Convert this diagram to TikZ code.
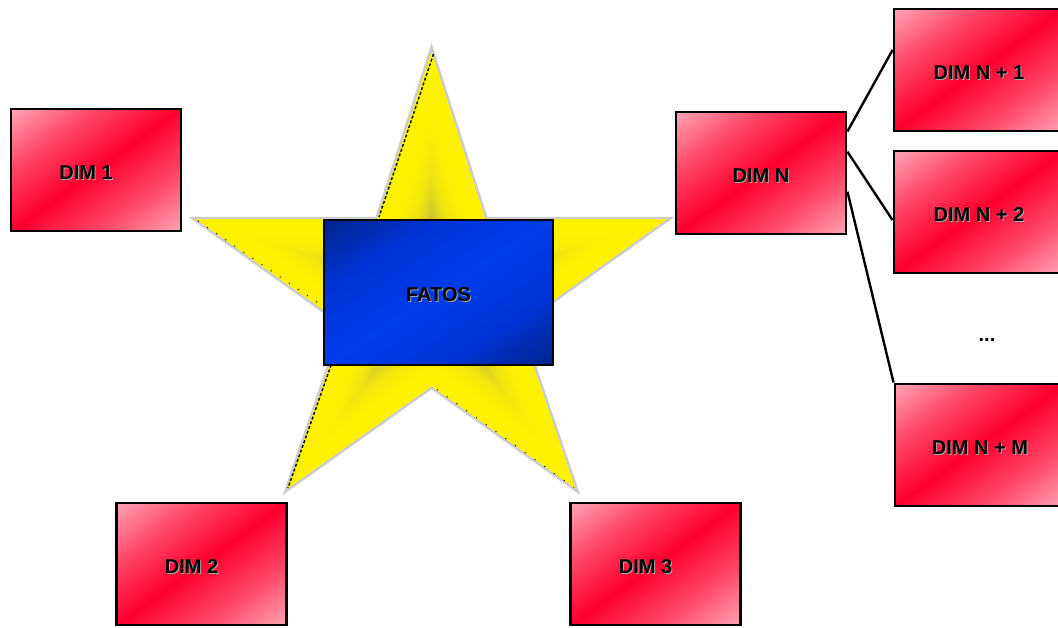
\documentclass[tikz,border=0pt]{standalone}
\usepackage{fontspec}
\setmainfont{Liberation Sans}
\usetikzlibrary{calc}
\definecolor{dimpink}{RGB}{255,168,184}
\definecolor{dimmid}{RGB}{255,72,104}
\definecolor{dimred}{RGB}{255,0,46}
\definecolor{fdark}{RGB}{0,34,136}
\definecolor{fmid}{RGB}{0,52,214}
\definecolor{fbright}{RGB}{0,60,234}
\definecolor{stargray}{RGB}{204,204,204}
\definecolor{txtshadow}{RGB}{165,165,165}
\pgfdeclarelayer{bg}
\pgfsetlayers{bg,main}
\pgfdeclarehorizontalshading{redshade}{100bp}{color(0bp)=(dimpink); color(25bp)=(dimpink);
  color(37.5bp)=(dimmid); color(50bp)=(dimred); color(62.5bp)=(dimmid); color(75bp)=(dimpink); color(100bp)=(dimpink)}
\pgfdeclarehorizontalshading{blueshade}{100bp}{color(0bp)=(fdark); color(25bp)=(fdark);
  color(37.5bp)=(fmid); color(50bp)=(fbright); color(62.5bp)=(fmid); color(75bp)=(fdark); color(100bp)=(fdark)}
\newcommand\dimfont{\fontsize{20}{24}\selectfont\bfseries}
\newcommand\shd[1]{\raisebox{-9.2pt}[0pt][0pt]{\makebox[0pt][l]{\hspace{1pt}\raisebox{-1pt}{\textcolor{txtshadow}{#1}}}#1}}
% diagonal gradient under a named box: node, angle, half extent, shading name
\newcommand\gradfill[4]{%
  \begin{scope}
    \clip ([shift={(2,2)}]#1.north west) rectangle ([shift={(-2,-2)}]#1.south east);
    \begin{scope}[transform canvas={shift={(#1.center)}, rotate=#2}]
      \shade[shading=#4] (-#3,-200) rectangle (#3,200);
    \end{scope}
  \end{scope}}
\tikzset{
  dimbox/.style={draw=black, line width=2.9pt, minimum width=170pt, minimum height=122pt,
    inner sep=0pt, font=\dimfont, text=black},
  fatosbox/.style={draw=black, line width=2.9pt, minimum width=229pt, minimum height=145pt,
    inner sep=0pt, font=\dimfont, text=black},
  conn/.style={draw=black, line width=2.4pt},
  artifact/.style={draw=black, line width=1.4pt},
}
\begin{document}
\begin{tikzpicture}[x=1pt,y=-1pt]
\useasboundingbox (0,0) rectangle (1058,628);

% boxes (outlines and text on the main layer)
\node[fatosbox] (fatos) at (438.5,292.5) {\shd{FATOS}};
\node[dimbox] (dim1) at (96,170) {\shd{DIM 1}\kern20pt};
\node[dimbox] (dim2) at (201.5,564) {\shd{DIM 2}\kern20pt};
\node[dimbox] (dim3) at (655.5,564) {\shd{DIM 3}\kern20pt};
\node[dimbox] (dimN) at (761,173) {\shd{DIM N}};
\node[dimbox] (dimN1) at (979,70) {\shd{DIM N + 1}};
\node[dimbox] (dimN2) at (979,212) {\shd{DIM N + 2}};
\node[dimbox] (dimNM) at (980,445) {\shd{DIM N + M}};
\node[font=\dimfont] (dots) at (987,340) {...};

% connectors
\draw[conn] ($(dimN.north east)!0.167!(dimN.south east)$) -- ($(dimN1.north west)!0.34!(dimN1.south west)$);
\draw[conn] ($(dimN.north east)!0.33!(dimN.south east)$) -- ($(dimN2.north west)!0.565!(dimN2.south west)$);
\draw[conn] ($(dimN.north east)!0.65!(dimN.south east)$) -- (dimNM.north west);

\begin{pgfonlayer}{bg}
\fill[white] (0,0) rectangle (1058,628);
% star with path-gradient-like shading
\foreach \s in {1.00,0.99,...,0.29} {
  \pgfmathsetmacro\p{100-19*min(1.25,((1-\s)/0.65)^3.5)}
  \fill[yellow!\p!black, shift={(431.5,295)}, scale=\s]
    (0,-248) -- (55,-77) -- (239.5,-77) -- (89.5,30) -- (146.5,197) -- (0,93)
    -- (-146.5,197) -- (-89.5,30) -- (-239.5,-77) -- (-55,-77) -- cycle;
}
\draw[stargray, line width=2.4pt, shift={(431.5,295)}]
    (0,-248) -- (55,-77) -- (239.5,-77) -- (89.5,30) -- (146.5,197) -- (0,93)
    -- (-146.5,197) -- (-89.5,30) -- (-239.5,-77) -- (-55,-77) -- cycle;
% rendering artifacts along some star edges
\draw[artifact, dash pattern=on 3pt off 2pt] (433.5,54) -- (379,217);
\draw[artifact, dash pattern=on 3pt off 2pt] (344.5,327) -- (288,488);
\draw[black, line width=1pt, dash pattern=on 1pt off 10pt] (198,221) -- (330,311);
\draw[black, line width=1pt, dash pattern=on 1pt off 11pt] (437,389.5) -- (574,487.5);

% box gradients
\gradfill{fatos}{-57.5}{124}{blueshade}
\gradfill{dim1}{-54.2}{101}{redshade}
\gradfill{dim2}{-54.2}{101}{redshade}
\gradfill{dim3}{-54.2}{101}{redshade}
\gradfill{dimN}{-54.2}{101}{redshade}
\gradfill{dimN1}{-54.2}{101}{redshade}
\gradfill{dimN2}{-54.2}{101}{redshade}
\gradfill{dimNM}{-54.2}{101}{redshade}
\end{pgfonlayer}
\end{tikzpicture}
\end{document}
